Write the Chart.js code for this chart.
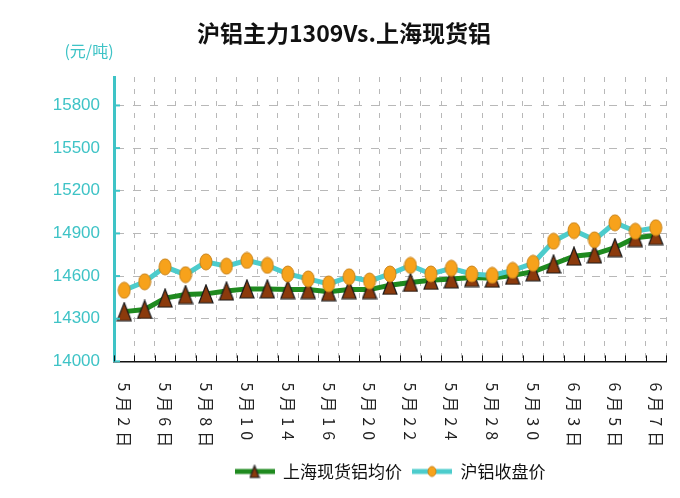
<!DOCTYPE html>
<html>
<head>
<meta charset="utf-8">
<script src="https://cdn.jsdelivr.net/npm/chart.js@4.4.1/dist/chart.umd.min.js"></script>
<style>
  html, body { margin: 0; padding: 0; background: #ffffff; }
  #wrap { width: 680px; height: 498px; position: relative; }
</style>
</head>
<body>
<div id="wrap"><canvas id="c" width="680" height="498"></canvas></div>
<script>
// ---- data ----
const titleText = '沪铝主力1309Vs.上海现货铝';
const unitText = '(元/吨)';
const categories = ['5月2日','5月3日','5月6日','5月7日','5月8日','5月9日','5月10','5月13','5月14','5月15','5月16','5月17','5月20','5月21','5月22','5月23','5月24','5月27','5月28','5月29','5月30','5月31','6月3日','6月4日','6月5日','6月6日','6月7日'];
const spotName = '上海现货铝均价';
const spotValues = [14350,14365,14445,14470,14475,14495,14510,14510,14505,14505,14490,14505,14505,14535,14555,14570,14580,14590,14585,14605,14630,14685,14740,14755,14800,14870,14885];
const futName = '沪铝收盘价';
const futValues = [14500,14560,14665,14610,14700,14670,14710,14675,14615,14580,14545,14595,14565,14615,14675,14615,14655,14615,14605,14640,14690,14845,14920,14855,14975,14915,14940];
const yTicks = [14000,14300,14600,14900,15200,15500,15800];

// ---- styles ----
const GREEN = '#1f8a1f';
const CYAN = '#4ccccc';
const BROWN = '#8b3a0c';
const ORANGE = '#f7a21b';
const AXIS_CYAN = '#3ec3c6';
const CJK = '"Noto Sans CJK SC", "Noto Sans", sans-serif';

function triImg(w, h) {
  const c = document.createElement('canvas');
  c.width = w; c.height = h;
  const g = c.getContext('2d');
  g.beginPath();
  g.moveTo(w / 2, 1);
  g.lineTo(w - 1, h - 1);
  g.lineTo(1, h - 1);
  g.closePath();
  g.fillStyle = BROWN; g.fill();
  g.lineWidth = 1.2; g.strokeStyle = '#1a1a1a'; g.stroke();
  return c;
}
function ellImg(w, h) {
  const c = document.createElement('canvas');
  c.width = w; c.height = h;
  const g = c.getContext('2d');
  g.beginPath();
  g.ellipse(w / 2, h / 2, w / 2 - 1, h / 2 - 1, 0, 0, Math.PI * 2);
  g.fillStyle = ORANGE; g.fill();
  g.lineWidth = 1; g.strokeStyle = '#c9841c'; g.stroke();
  return c;
}
function legendImg(color, marker) {
  const c = document.createElement('canvas');
  c.width = 40; c.height = 18;
  const g = c.getContext('2d');
  g.strokeStyle = color; g.lineWidth = 5;
  g.beginPath(); g.moveTo(0, 9); g.lineTo(40, 9); g.stroke();
  g.drawImage(marker, 20 - marker.width / 2, 9 - marker.height / 2);
  return c;
}
const triPoint = triImg(16, 20);
const ellPoint = ellImg(14, 18);
const triLegend = legendImg(GREEN, triImg(11, 14));
const ellLegend = legendImg(CYAN, ellImg(10, 12));

const extras = {
  id: 'extras',
  afterDraw(chart) {
    const ctx = chart.ctx;
    const xs = chart.scales.x, ys = chart.scales.y;
    const area = chart.chartArea;
    ctx.save();
    // unit label
    ctx.fillStyle = AXIS_CYAN;
    ctx.font = '16px ' + CJK;
    ctx.textAlign = 'center';
    ctx.textBaseline = 'middle';
    ctx.fillText(unitText, 89, 51);
    // y inward ticks
    ctx.strokeStyle = AXIS_CYAN; ctx.lineWidth = 2;
    yTicks.forEach(v => {
      const y = ys.getPixelForValue(v);
      ctx.beginPath(); ctx.moveTo(area.left, y); ctx.lineTo(area.left + 6, y); ctx.stroke();
    });
    // x inward ticks at category boundaries
    const step = xs.getPixelForValue(1) - xs.getPixelForValue(0);
    ctx.strokeStyle = '#111'; ctx.lineWidth = 1;
    for (let i = 0; i <= categories.length; i++) {
      const x = Math.round(xs.getPixelForValue(i) - step / 2) + 0.5;
      ctx.beginPath(); ctx.moveTo(x, area.bottom); ctx.lineTo(x, area.bottom - 6); ctx.stroke();
    }
    // rotated x labels (every other category)
    ctx.fillStyle = '#222';
    ctx.font = '16px ' + CJK;
    ctx.textAlign = 'left';
    ctx.textBaseline = 'middle';
    try { ctx.letterSpacing = '5px'; } catch (e) {}
    for (let i = 0; i < categories.length; i += 2) {
      const x = xs.getPixelForValue(i);
      ctx.save();
      ctx.translate(x, area.bottom + 21);
      ctx.rotate(Math.PI / 2);
      ctx.fillText(xs.getLabelForValue(i), 0, 0);
      ctx.restore();
    }
    ctx.restore();
  }
};

new Chart(document.getElementById('c'), {
  type: 'line',
  data: {
    labels: categories,
    datasets: [
      {
        label: spotName, data: spotValues,
        borderColor: GREEN, backgroundColor: BROWN, borderWidth: 5,
        pointStyle: triPoint, pointRadius: 9, pointHoverRadius: 9,
        tension: 0, order: 1
      },
      {
        label: futName, data: futValues,
        borderColor: CYAN, backgroundColor: ORANGE, borderWidth: 5,
        pointStyle: ellPoint, pointRadius: 8, pointHoverRadius: 8,
        tension: 0, order: 0
      }
    ]
  },
  options: {
    responsive: false,
    animation: false,
    devicePixelRatio: 1,
    layout: { padding: { left: 8, right: 0, top: 0, bottom: 8 } },
    plugins: {
      tooltip: { enabled: false },
      title: {
        display: true, text: titleText, color: '#111',
        font: { family: CJK, size: 23, weight: 'bold', lineHeight: 1.2 },
        padding: { top: 19.2, bottom: 30.2 }
      },
      legend: {
        position: 'bottom', fullSize: false,
        labels: {
          usePointStyle: true, pointStyleWidth: 40, padding: 10,
          color: '#111', font: { family: CJK, size: 17, lineHeight: 1.2 },
          generateLabels: () => [
            { text: spotName, pointStyle: triLegend, fillStyle: BROWN, strokeStyle: GREEN, lineWidth: 0, fontColor: '#111', datasetIndex: 0 },
            { text: futName, pointStyle: ellLegend, fillStyle: ORANGE, strokeStyle: CYAN, lineWidth: 0, fontColor: '#111', datasetIndex: 1 }
          ]
        }
      }
    },
    scales: {
      x: {
        type: 'category', offset: true,
        grid: {
          offset: true, drawTicks: false, lineWidth: 1,
          color: ctx => (ctx.index === 0 ? 'rgba(0,0,0,0)' : '#b8b8b8')
        },
        border: { display: true, color: '#111', width: 1.5, dash: [5, 7] },
        ticks: { display: false },
        afterFit: s => { s.height = 91.6; }
      },
      y: {
        type: 'linear', position: 'left', min: 14000, max: 16000,
        afterBuildTicks: s => { s.ticks = yTicks.map(v => ({ value: v })); },
        grid: {
          drawTicks: false, lineWidth: 1,
          color: ctx => (ctx.tick && ctx.tick.value === 14000 ? 'rgba(0,0,0,0)' : '#b8b8b8')
        },
        border: { display: true, color: AXIS_CYAN, width: 3, dash: [8, 9] },
        ticks: {
          color: AXIS_CYAN, padding: 14,
          font: { family: '"Liberation Sans", Arial, sans-serif', size: 17 },
          callback: v => String(v)
        },
        afterFit: s => { s.width = 106; }
      },
      yR: {
        type: 'linear', position: 'right', display: true,
        grid: { display: false, drawTicks: false },
        border: { display: false },
        ticks: { display: false },
        afterFit: s => { s.width = 13; }
      }
    }
  },
  plugins: [extras]
});
</script>
</body>
</html>
